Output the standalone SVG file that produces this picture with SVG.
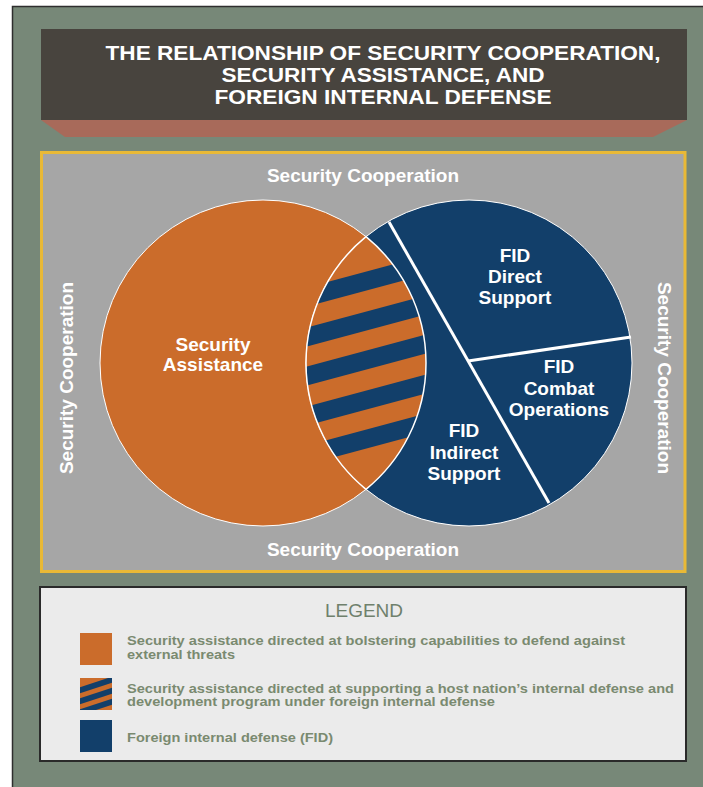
<svg xmlns="http://www.w3.org/2000/svg" width="703" height="787" viewBox="0 0 703 787">
<style>
.t{font-family:"Liberation Sans",Arial,sans-serif;font-weight:bold;fill:#ffffff;}
.title{font-size:21px;text-anchor:middle;}
.lbl{font-size:19px;text-anchor:middle;}
.sc{font-size:19px;text-anchor:middle;}
.lg{font-family:"Liberation Sans",Arial,sans-serif;font-weight:bold;font-size:13px;fill:#7a8a70;}
.sep{stroke:#ffffff;stroke-width:3;fill:none;}
</style>
<defs>
<clipPath id="lensClip"><path d="M366,236.67 A163,163 0 0 1 366,489.33 A163,163 0 0 1 366,236.67 Z"/></clipPath>
<clipPath id="swClip"><rect x="80" y="678" width="32" height="32"/></clipPath>
</defs>
<rect x="0" y="0" width="703" height="787" fill="#ffffff"/>
<rect id="frame" x="12.5" y="6.5" width="700" height="790" fill="#778878" stroke="#2e2e2e" stroke-width="1.5"/>
<g id="title">
<rect x="41" y="29" width="646" height="91" fill="#48443e"/>
<polygon points="41,120 687,120 653,137 65,137" fill="#a86a5a"/>
<text class="t title" x="383" y="60" textLength="555" lengthAdjust="spacingAndGlyphs">THE RELATIONSHIP OF SECURITY COOPERATION,</text>
<text class="t title" x="383" y="82" textLength="323" lengthAdjust="spacingAndGlyphs">SECURITY ASSISTANCE, AND</text>
<text class="t title" x="383" y="104" textLength="337" lengthAdjust="spacingAndGlyphs">FOREIGN INTERNAL DEFENSE</text>
</g>
<g id="security-cooperation">
<rect x="41.5" y="152.5" width="643.5" height="419" fill="#a6a6a6" stroke="#e9b936" stroke-width="3"/>
<text class="t sc" x="363" y="182">Security Cooperation</text>
<text class="t sc" x="363" y="556">Security Cooperation</text>
<text class="t sc" transform="translate(72.5,378) rotate(-90)">Security Cooperation</text>
<text class="t sc" transform="translate(658,378) rotate(90)">Security Cooperation</text>
</g>
<g id="security-assistance">
<circle cx="263" cy="363" r="163" fill="#cb6c2b" stroke="#ffffff" stroke-width="1"/>
<text class="t lbl" x="213" y="351">Security</text>
<text class="t lbl" x="213" y="371">Assistance</text>
</g>
<g id="fid">
<circle cx="469" cy="363" r="163" fill="#123f6a" stroke="#ffffff" stroke-width="1"/>
</g>
<g id="overlap">
<g clip-path="url(#lensClip)">
<rect x="300" y="230" width="130" height="265" fill="#cb6c2b"/>
<polygon points="300,289.4 430,254.3 430,273.3 300,308.4" fill="#123f6a"/>
<polygon points="300,329.4 430,294.3 430,313.3 300,348.4" fill="#123f6a"/>
<polygon points="300,368.4 430,333.3 430,352.3 300,387.4" fill="#123f6a"/>
<polygon points="300,408.4 430,373.3 430,392.3 300,427.4" fill="#123f6a"/>
<polygon points="300,447.4 430,412.3 430,431.3 300,466.4" fill="#123f6a"/>
</g>
<path d="M366,236.67 A163,163 0 0 1 366,489.33 A163,163 0 0 1 366,236.67 Z" fill="none" stroke="#ffffff" stroke-width="1.5"/>
</g>
<g id="connectors">
<line class="sep" x1="389" y1="222" x2="549" y2="503"/>
<line class="sep" x1="468" y1="361" x2="631" y2="337"/>
</g>
<g id="fid-direct">
<text class="t lbl" x="515" y="262">FID</text>
<text class="t lbl" x="515" y="283">Direct</text>
<text class="t lbl" x="515" y="304">Support</text>
</g>
<g id="fid-combat">
<text class="t lbl" x="559" y="373">FID</text>
<text class="t lbl" x="559" y="395">Combat</text>
<text class="t lbl" x="559" y="416">Operations</text>
</g>
<g id="fid-indirect">
<text class="t lbl" x="464" y="437">FID</text>
<text class="t lbl" x="464" y="459">Indirect</text>
<text class="t lbl" x="464" y="480">Support</text>
</g>
<g id="legend">
<rect x="40" y="587" width="646" height="174" fill="#ebebeb" stroke="#2a2a2a" stroke-width="2"/>
<text x="364" y="617" font-family="Liberation Sans,Arial,sans-serif" font-size="19" fill="#6f806c" text-anchor="middle">LEGEND</text>
<rect x="80" y="633" width="32" height="32" fill="#cb6c2b"/>
<g clip-path="url(#swClip)">
<rect x="80" y="678" width="32" height="32" fill="#cb6c2b"/>
<polygon points="78,688 114,676 114,682 78,694" fill="#123f6a"/>
<polygon points="78,699 114,687 114,693 78,705" fill="#123f6a"/>
<polygon points="78,710 114,698 114,704 78,716" fill="#123f6a"/>
</g>
<rect x="80" y="720" width="32" height="32" fill="#123f6a"/>
<text class="lg" x="127" y="645" textLength="498" lengthAdjust="spacingAndGlyphs">Security assistance directed at bolstering capabilities to defend against</text>
<text class="lg" x="127" y="659" textLength="108" lengthAdjust="spacingAndGlyphs">external threats</text>
<text class="lg" x="127" y="692.5" textLength="547" lengthAdjust="spacingAndGlyphs">Security assistance directed at supporting a host nation’s internal defense and</text>
<text class="lg" x="127" y="706" textLength="368" lengthAdjust="spacingAndGlyphs">development program under foreign internal defense</text>
<text class="lg" x="127" y="742" textLength="206" lengthAdjust="spacingAndGlyphs">Foreign internal defense (FID)</text>
</g>
</svg>
